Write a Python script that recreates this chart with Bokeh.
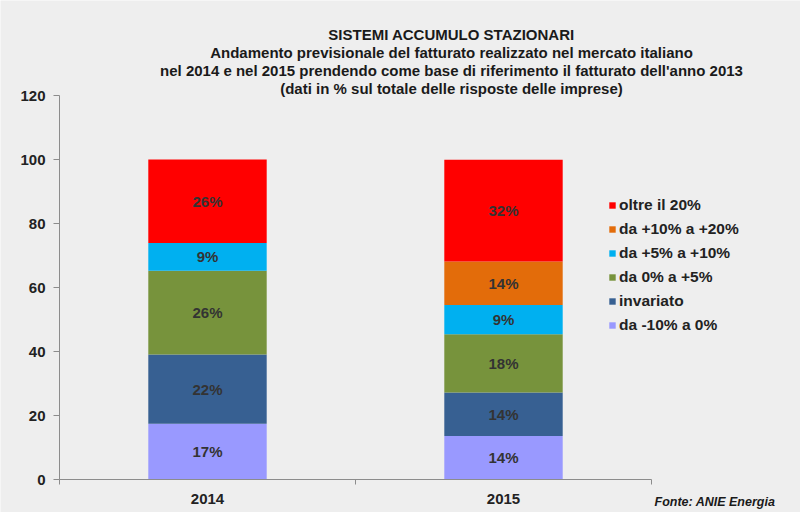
from bokeh.plotting import figure
from bokeh.models import (Range1d, FixedTicker, Label, Legend, LegendItem,
                          ColumnDataSource)
from bokeh.embed import file_html
from bokeh.resources import INLINE
from bokeh.core.properties import value

years = ["2014", "2015"]
series = ["da -10% a 0%", "invariato", "da 0% a +5%", "da +5% a +10%",
          "da +10% a +20%", "oltre il 20%"]
v_neg = [17.4, 13.6]
v_inv = [21.7, 13.6]
v_0_5 = [26.1, 18.2]
v_5_10 = [8.7, 9.1]
v_10_20 = [0.0, 13.6]
v_20 = [26.1, 31.8]
colors = ["#9999FF", "#376092", "#77933C", "#00B0F0", "#E36C0A", "#FF0000"]
y_ticks = [0, 20, 40, 60, 80, 100, 120]
title_lines = ["SISTEMI ACCUMULO STAZIONARI",
               "Andamento previsionale del fatturato realizzato nel mercato italiano",
               "nel 2014 e nel 2015 prendendo come base di riferimento il fatturato dell'anno 2013",
               "(dati in % sul totale delle risposte delle imprese)"]
source_note = "Fonte: ANIE Energia"

values = [v_neg, v_inv, v_0_5, v_5_10, v_10_20, v_20]
keys = ["s%d" % i for i in range(len(series))]
xs = [i + 0.5 for i in range(len(years))]

data = {"x": xs}
for k, v in zip(keys, values):
    data[k] = v
src = ColumnDataSource(data)

BG = "#EEEEEE"
FONT = "Liberation Sans"
AX = "#8C8C8C"

W, H = 800, 512
ax_left, ax_right = 59, 651      # pixel extent of the category axis
y0_px, y120_px = 479, 95         # pixel positions of 0 and 120
ncat = len(years)
xpx = (ax_right - ax_left) / ncat
ypx = (y0_px - y120_px) / 120.0
x_range = Range1d(-ax_left / xpx, (W - ax_left) / xpx)
y_range = Range1d(-(H - y0_px) / ypx, 120 + y120_px / ypx)

p = figure(width=W, height=H, output_backend="svg", toolbar_location=None,
           x_range=x_range, y_range=y_range,
           min_border=0, min_border_left=0, min_border_right=0,
           min_border_top=0, min_border_bottom=0)
p.background_fill_color = BG
p.border_fill_color = BG
p.outline_line_color = None
p.grid.visible = False

renderers = p.vbar_stack(keys, x="x", width=0.4, color=colors, source=src,
                         line_color=None)

# axes at fixed data locations
xa = p.xaxis[0]
xa.fixed_location = 0
xa.ticker = FixedTicker(ticks=xs, minor_ticks=[float(i) for i in range(ncat + 1)])
xa.major_label_overrides = {x: y for x, y in zip(xs, years)}
xa.bounds = (0, ncat)
xa.axis_line_color = AX
xa.major_tick_line_color = None
xa.minor_tick_line_color = AX
xa.minor_tick_out = 5
xa.minor_tick_in = 0
xa.major_label_standoff = 8
xa.major_label_text_font = FONT
xa.major_label_text_font_style = "bold"
xa.major_label_text_font_size = "15px"
xa.major_label_text_color = "#222222"

ya = p.yaxis[0]
ya.fixed_location = 0
ya.ticker = FixedTicker(ticks=y_ticks)
ya.bounds = (0, 120)
ya.axis_line_color = AX
ya.major_tick_line_color = AX
ya.major_tick_out = 6
ya.major_tick_in = 0
ya.minor_tick_line_color = None
ya.major_label_standoff = 8
ya.major_label_text_font = FONT
ya.major_label_text_font_style = "bold"
ya.major_label_text_font_size = "15px"
ya.major_label_text_color = "#222222"

# segment labels
lx, ly, lt = [], [], []
for i, x in enumerate(xs):
    base = 0.0
    for v in values:
        val = v[i]
        if val > 0:
            lx.append(x)
            ly.append(base + val / 2)
            lt.append("%d%%" % round(val))
        base += val
p.text(x=lx, y=ly, text=lt, text_align="center", text_baseline="middle",
       text_font=value(FONT), text_font_style="bold", text_font_size="15px",
       text_color="#333333")

# legend (top item = last series)
items = [LegendItem(label=series[i], renderers=[renderers[i]])
         for i in reversed(range(len(series)))]
legend = Legend(items=items, location=(608, 177), glyph_width=8, glyph_height=8,
                label_height=20, spacing=4, padding=0, margin=0,
                label_standoff=3, background_fill_alpha=0,
                border_line_color=None, label_text_font=FONT,
                label_text_font_style="bold", label_text_font_size="15.5px",
                label_text_color="#222222")
p.add_layout(legend, "center")

# title lines
title_y = [34, 52, 70, 88]
for t, ty in zip(title_lines, title_y):
    p.add_layout(Label(x=451, y=H - ty, x_units="screen", y_units="screen",
                       text=t, text_align="center", text_baseline="middle",
                       text_font=FONT, text_font_style="bold",
                       text_font_size="15px", text_color="#1A1A1A"))

p.add_layout(Label(x=654, y=H - 501, x_units="screen", y_units="screen",
                   text=source_note, text_align="left", text_baseline="middle",
                   text_font=FONT, text_font_style="bold italic",
                   text_font_size="12.5px", text_color="#1A1A1A"))

open("out.html", "w").write(file_html(p, INLINE))
